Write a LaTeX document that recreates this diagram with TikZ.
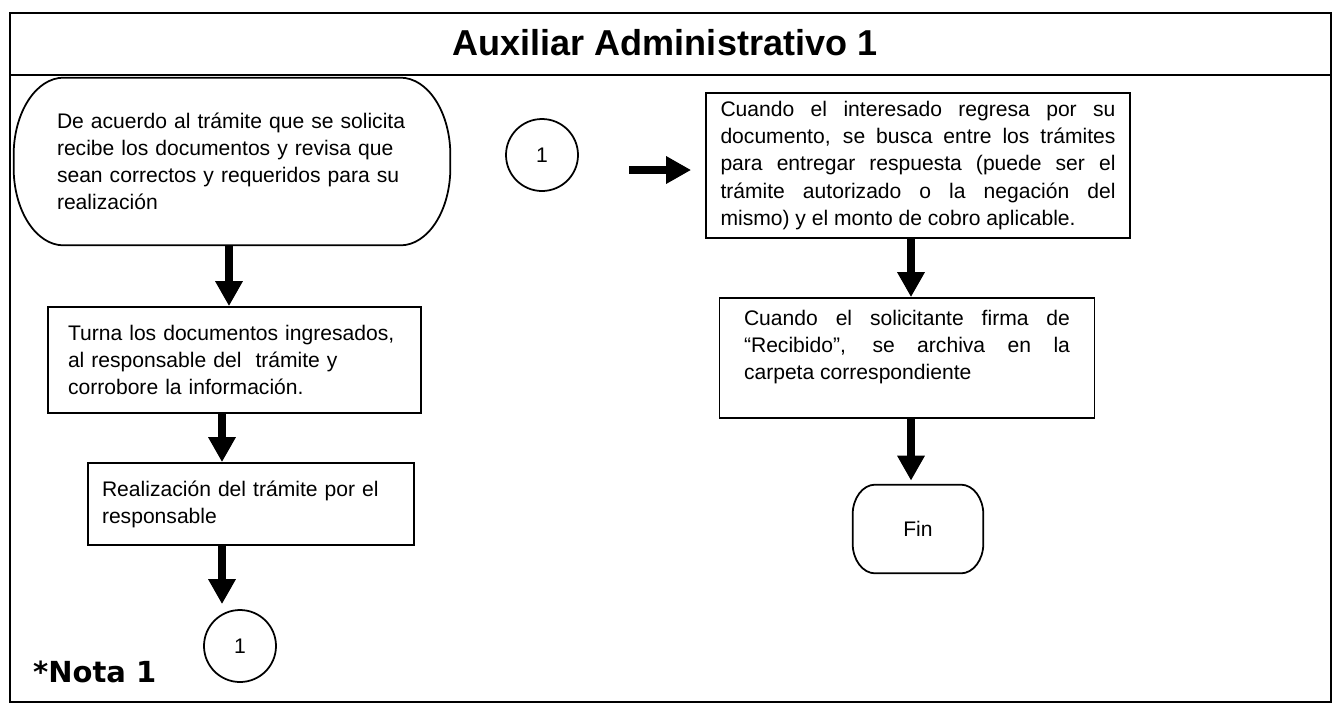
\documentclass[tikz,border=0pt]{standalone}
\usepackage{fontspec}
\setmainfont{Liberation Sans}
\newfontfamily\notafont{DejaVu Sans}
\usepackage{tikz}
\usetikzlibrary{arrows.meta,positioning}

% terminator outline with elliptic corners: node, x radius, y radius
\newcommand{\termoutline}[3]{%
  \draw[line width=1pt] ([xshift=#2]#1.north west) -- ([xshift=-#2]#1.north east)
    arc[start angle=90, end angle=0, x radius=#2, y radius=#3]
    -- ([yshift=#3]#1.south east)
    arc[start angle=0, end angle=-90, x radius=#2, y radius=#3]
    -- ([xshift=#2]#1.south west)
    arc[start angle=270, end angle=180, x radius=#2, y radius=#3]
    -- ([yshift=-#3]#1.north west)
    arc[start angle=180, end angle=90, x radius=#2, y radius=#3] -- cycle;}

\begin{document}
\begin{tikzpicture}[
  font=\fontsize{12}{15.4}\selectfont,
  box/.style={draw, line width=1pt, align=left, inner sep=0pt},
  jbox/.style={box, align=justify, execute at begin node={\tolerance=10000\hyphenpenalty=10000}},
  term/.style={inner sep=0pt, align=left},
  conn/.style={draw, circle, line width=1pt, minimum size=1.44cm, inner sep=0pt},
  arr/.style={-{Triangle[length=0.5cm,width=0.52cm]}, line width=4pt}
]
  \useasboundingbox (0,0) rectangle (26.64,-14.1);
  % frame and header
  \draw[line width=0.9pt] (0.2,-0.26) rectangle (26.62,-14.04);
  \draw[line width=0.9pt] (0.2,-1.5) -- (26.62,-1.5);
  \node[font=\bfseries\fontsize{20.5}{24}\selectfont] (title) at (13.3,-0.86) {Auxiliar Administrativo 1};

  % left column
  \node[term, text width=7.0cm, minimum width=8.72cm, minimum height=3.34cm] (start) at (4.64,-3.23)
    {\hyphenpenalty=10000 De acuerdo al trámite que se solicita\\recibe los documentos y revisa que\\sean correctos y requeridos para su\\realización};
  \termoutline{start}{1.0cm}{1.55cm}
  \node[box, text width=6.66cm, minimum width=7.46cm, minimum height=2.12cm] (turna) at (4.69,-7.2)
    {Turna los documentos ingresados,\\al responsable del\ \ trámite y\\corrobore la información.};
  \node[box, text width=5.96cm, minimum width=6.52cm, minimum height=1.64cm] (realiza) at (5.02,-10.08)
    {Realización del trámite por el\\responsable};
  \node[conn] (c1bot) at (4.8,-12.92) {1};
  \node[font=\notafont\bfseries\fontsize{16.5}{20}\selectfont, anchor=base west] (nota) at (0.54,-13.64) {*Nota 1};

  % right column
  \node[conn] (c1top) at (10.84,-3.1) {1};
  \node[jbox, text width=7.9cm, minimum width=8.48cm, minimum height=2.9cm] (cuando) at (18.36,-3.31)
    {Cuando el interesado regresa por su\linebreak
     documento, se busca entre los trámites\linebreak
     para entregar respuesta (puede ser el\linebreak
     trámite autorizado o la negación del\linebreak
     mismo) y el monto de cobro aplicable.};
  \node[jbox, text width=6.52cm, minimum width=7.5cm, minimum height=2.4cm] (recibido) at (18.14,-7.16)
    {Cuando el solicitante firma de\linebreak
     “Recibido”, se archiva en la\linebreak
     carpeta correspondiente\par\mbox{}};
  \node[term, minimum width=2.6cm, minimum height=1.76cm, align=center] (fin) at (18.36,-10.58) {Fin};
  \termoutline{fin}{0.45cm}{0.6cm}

  % connectors
  \coordinate (colL1) at (4.58,0);
  \coordinate (colL2) at (4.44,0);
  \coordinate (colR) at (18.22,0);
  \coordinate (gapR) at (12.58,-3.4);
  \draw[arr] (start.south -| colL1) -- (turna.north -| colL1);
  \draw[arr] (turna.south -| colL2) -- (realiza.north -| colL2);
  \draw[arr, shorten >=1mm] (realiza.south -| colL2) -- (c1bot.north -| colL2);
  \draw[arr, shorten >=0.28cm] (gapR) -- (gapR -| cuando.west);
  \draw[arr] (cuando.south -| colR) -- (recibido.north -| colR);
  \draw[arr, shorten >=0.08cm] (recibido.south -| colR) -- (fin.north -| colR);
\end{tikzpicture}
\end{document}
